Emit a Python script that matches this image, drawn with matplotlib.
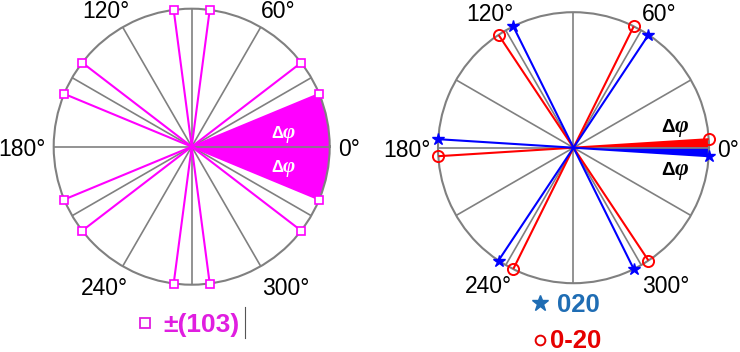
import numpy as np
import matplotlib
matplotlib.use("Agg")
import matplotlib.pyplot as plt
from matplotlib.lines import Line2D

# ---------------- data ----------------
grid_angles = list(range(0, 360, 30))
tick_angles = [0, 60, 120, 180, 240, 300]
tick_labels = ["0°", "60°", "120°", "180°", "240°", "300°"]

left_angles = [22.5, 37.5, 82.5, 97.5, 142.5, 157.5,
               202.5, 217.5, 262.5, 277.5, 322.5, 337.5]
left_wedge = [-22.5, 22.5]
left_legend = "±(103)"

right_020 = [-3.6, 56.4, 116.4, 176.4, 236.4, 296.4]
right_0m20 = [3.6, 63.6, 123.6, 183.6, 243.6, 303.6]
right_wedge_020 = [-3.6, 0.0]
right_wedge_0m20 = [0.0, 3.6]
right_legend = ["020", "0-20"]

# ---------------- style ----------------
GRAY = "#808080"
MAG = "#ff00ff"
BLUE = "#0000ff"
RED = "#ff0000"
SANS = ["Liberation Sans", "DejaVu Sans"]
plt.rcParams["font.family"] = SANS

W, H = 740, 352
fig = plt.figure(figsize=(W / 100, H / 100), dpi=100)


def make_ax(cx, cy, R):
    ax = fig.add_axes([(cx - R) / W, (H - cy - R) / H, 2 * R / W, 2 * R / H],
                      projection="polar")
    ax.set_ylim(0, 1)
    ax.set_xticks(np.deg2rad(grid_angles))
    ax.set_xticklabels([])
    ax.set_yticks([])
    ax.grid(True, color=GRAY, lw=1.2)
    ax.spines["polar"].set_color(GRAY)
    ax.spines["polar"].set_linewidth(1.5)
    ax.set_facecolor("white")
    # tick labels (normalized offsets from centre, radius = 1)
    pos = {0: (1.14, -0.07), 60: (0.63, 0.935), 120: (-0.62, 0.935),
           180: (-1.228, -0.07), 240: (-0.63, -1.075), 300: (0.68, -1.075)}
    for a, lab in zip(tick_angles, tick_labels):
        nx, ny = pos[a]
        ax.text(0.5 + 0.5 * nx, 0.5 + 0.5 * ny, lab, transform=ax.transAxes,
                ha="center", va="baseline", fontsize=16.5, color="black",
                clip_on=False)
    return ax


def wedge(ax, a0, a1, color):
    th = np.deg2rad(np.linspace(a0, a1, 60))
    ax.fill(np.concatenate([[0], th, [0]]), np.concatenate([[0], np.ones_like(th), [0]]),
            color=color, lw=0, zorder=1)


def delta_phi(ax, nx, ny, size, color):
    x, y = 0.5 + 0.5 * nx, 0.5 + 0.5 * ny
    ax.text(x, y, "Δ", transform=ax.transAxes, ha="right", va="baseline",
            fontsize=size, fontweight="bold", color=color,
            family=["Liberation Sans", "DejaVu Sans"], clip_on=False, zorder=5)
    ax.text(x, y, "φ", transform=ax.transAxes, ha="left", va="baseline",
            fontsize=size * 1.25, fontweight="bold", fontstyle="italic", color=color,
            family=["Liberation Serif", "DejaVu Serif"], clip_on=False, zorder=5)


# ---------------- left ----------------
axL = make_ax(191.7, 146.7, 138)
wedge(axL, left_wedge[0], left_wedge[1], MAG)
for a in left_angles:
    axL.plot(np.deg2rad([a, a]), [0, 1], color=MAG, lw=1.5, zorder=3)
axL.plot(np.deg2rad(left_angles), np.ones(len(left_angles)), ls="none", marker="s",
         ms=6, mfc="white", mec=MAG, mew=1.2, clip_on=False, zorder=4)
delta_phi(axL, 0.66, 0.061, 12, "white")
delta_phi(axL, 0.66, -0.186, 12, "white")

# ---------------- right ----------------
axR = make_ax(573.5, 147.7, 135.5)
wedge(axR, right_wedge_0m20[0], right_wedge_0m20[1], RED)
wedge(axR, right_wedge_020[0], right_wedge_020[1], BLUE)
for a in right_0m20:
    axR.plot(np.deg2rad([a, a]), [0, 1], color=RED, lw=1.5, zorder=3)
for a in right_020:
    axR.plot(np.deg2rad([a, a]), [0, 1], color=BLUE, lw=1.5, zorder=3)
axR.plot(np.deg2rad(right_0m20), np.ones(len(right_0m20)), ls="none", marker="o",
         ms=8, mfc="none", mec=RED, mew=1.4, clip_on=False, zorder=4)
axR.plot(np.deg2rad(right_020), np.ones(len(right_020)), ls="none", marker="*",
         ms=9, mfc=BLUE, mec=BLUE, mew=1.0, clip_on=False, zorder=4)
delta_phi(axR, 0.745, 0.118, 13.5, "black")
delta_phi(axR, 0.745, -0.200, 13.5, "black")

# ---------------- legends ----------------
LEG_MAG = "#e01ee0"
LEG_BLUE = "#1f6db4"
LEG_RED = "#e60000"
fig.add_artist(Line2D([145 / W], [1 - 323 / H], marker="s", ms=7.5, mfc="white",
                      mec=LEG_MAG, mew=1.3, transform=fig.transFigure))
fig.text(163 / W, 1 - 331.7 / H, left_legend, color=LEG_MAG, fontsize=19,
         fontweight="bold", ha="left", va="baseline")
fig.add_artist(Line2D([245 / W, 245 / W], [1 - 307 / H, 1 - 338 / H], color="#555555",
                      lw=0.8, transform=fig.transFigure))

fig.add_artist(Line2D([540 / W], [1 - 303 / H], marker="*", ms=12, mfc=LEG_BLUE,
                      mec=LEG_BLUE, mew=1.0, transform=fig.transFigure))
fig.text(557 / W, 1 - 311.7 / H, right_legend[0], color=LEG_BLUE, fontsize=18.5,
         fontweight="bold", ha="left", va="baseline")
fig.add_artist(Line2D([540 / W], [1 - 340 / H], marker="o", ms=7, mfc="white",
                      mec=LEG_RED, mew=1.4, transform=fig.transFigure))
fig.text(550 / W, 1 - 347.5 / H, right_legend[1], color=LEG_RED, fontsize=18.5,
         fontweight="bold", ha="left", va="baseline")

fig.savefig("out.png", dpi=100, facecolor="white")
